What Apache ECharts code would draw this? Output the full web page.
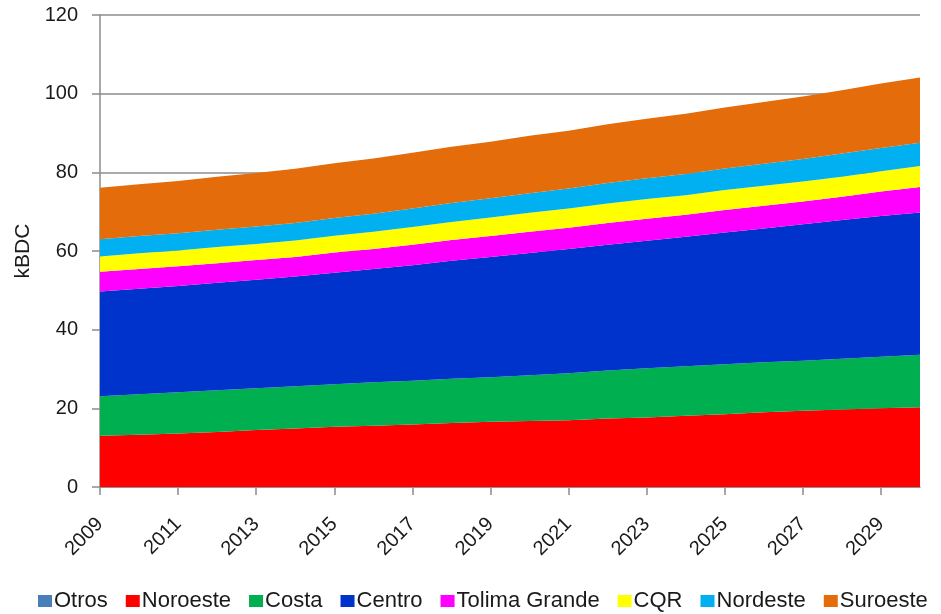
<!DOCTYPE html>
<html>
<head>
<meta charset="utf-8">
<script src="https://cdn.jsdelivr.net/npm/echarts@6/dist/echarts.min.js"></script>
<style>
  html, body { margin: 0; padding: 0; background: #fff; }
  #chart { width: 941px; height: 614px; }
</style>
</head>
<body>
<div id="chart"></div>
<script>
// Years on the horizontal axis
const years = ['2009','2010','2011','2012','2013','2014','2015','2016','2017','2018','2019',
               '2020','2021','2022','2023','2024','2025','2026','2027','2028','2029','2030'];

// Demand by region, kBDC (stacked from bottom to top)
const otros        = [0,0,0,0,0,0,0,0,0,0,0,0,0,0,0,0,0,0,0,0,0,0];
const noroeste     = [13.0,13.3,13.6,14.0,14.5,14.9,15.3,15.6,15.9,16.3,16.6,16.8,17.0,17.4,17.7,18.1,18.5,19.0,19.4,19.7,20.0,20.3];
const costa        = [10.1,10.3,10.5,10.6,10.6,10.7,10.8,11.0,11.1,11.2,11.3,11.6,11.9,12.2,12.5,12.6,12.7,12.7,12.7,12.9,13.1,13.3];
const centro       = [26.6,26.8,27.0,27.3,27.6,27.9,28.4,28.8,29.4,30.0,30.6,31.1,31.6,32.0,32.4,32.9,33.5,34.0,34.7,35.3,35.8,36.2];
const tolimaGrande = [5.0,5.0,5.0,5.0,5.0,5.0,5.1,5.1,5.2,5.3,5.3,5.4,5.4,5.5,5.6,5.6,5.7,5.8,5.8,5.9,6.2,6.5];
const cqr          = [3.9,4.0,4.0,4.1,4.1,4.2,4.3,4.4,4.5,4.6,4.7,4.8,4.9,5.0,5.0,5.0,5.1,5.1,5.1,5.1,5.2,5.3];
const nordeste     = [4.4,4.4,4.4,4.4,4.4,4.4,4.5,4.6,4.7,4.8,4.9,5.0,5.1,5.2,5.3,5.4,5.5,5.6,5.7,5.9,5.9,5.9];
const suroeste     = [13.1,13.2,13.3,13.5,13.6,13.8,13.9,14.0,14.2,14.3,14.4,14.6,14.7,14.9,15.1,15.3,15.5,15.7,15.9,16.1,16.4,16.6];

const regions = [
  { name: 'Otros',         data: otros,        color: '#4A7EBB' },
  { name: 'Noroeste',      data: noroeste,     color: '#FF0000' },
  { name: 'Costa',         data: costa,        color: '#00B050' },
  { name: 'Centro',        data: centro,       color: '#0033CC' },
  { name: 'Tolima Grande', data: tolimaGrande, color: '#FF00FF' },
  { name: 'CQR',           data: cqr,          color: '#FFFF00' },
  { name: 'Nordeste',      data: nordeste,     color: '#00B0F0' },
  { name: 'Suroeste',      data: suroeste,     color: '#E46C0A' }
];

const FONT = '"Liberation Sans", Arial, sans-serif';
const TEXT = '#1a1a1a';
const AXIS = '#8c8c8c';

const chart = echarts.init(document.getElementById('chart'), null, { renderer: 'canvas' });

chart.setOption({
  animation: false,
  backgroundColor: '#ffffff',
  textStyle: { fontFamily: FONT, color: TEXT },
  grid: { left: 100, right: 21, top: 15, bottom: 127, containLabel: false },
  legend: {
    top: 585,
    left: 33,
    icon: 'rect',
    itemWidth: 14,
    itemHeight: 12,
    itemGap: 18,
    textStyle: { fontFamily: FONT, fontSize: 22, color: TEXT, padding: [0, 0, 0, -3] },
    data: regions.map(r => r.name)
  },
  xAxis: {
    type: 'category',
    data: years,
    boundaryGap: false,
    axisLine: { lineStyle: { color: AXIS, width: 1.5 } },
    axisTick: { interval: 1, length: 8, lineStyle: { color: AXIS, width: 1.5 } },
    axisLabel: { interval: 1, rotate: 45, fontSize: 20, color: TEXT, margin: 34, fontFamily: FONT },
    splitLine: { show: false }
  },
  yAxis: {
    type: 'value',
    min: 0,
    max: 120,
    interval: 20,
    name: 'kBDC',
    nameLocation: 'middle',
    nameRotate: 90,
    nameGap: 66,
    nameTextStyle: { fontFamily: FONT, fontSize: 21, color: TEXT },
    axisLine: { show: true, lineStyle: { color: AXIS, width: 1.5 } },
    axisTick: { show: true, inside: false, length: 8, lineStyle: { color: AXIS, width: 1.5 } },
    axisLabel: { fontSize: 20, color: TEXT, margin: 22, fontFamily: FONT },
    splitLine: { show: true, lineStyle: { color: AXIS, width: 1.5 } }
  },
  series: regions.map(r => ({
    name: r.name,
    type: 'line',
    stack: 'demanda',
    data: r.data,
    symbol: 'none',
    smooth: false,
    color: r.color,
    lineStyle: { width: 0 },
    areaStyle: { color: r.color, opacity: 1 },
    emphasis: { disabled: true }
  }))
});
</script>
</body>
</html>
